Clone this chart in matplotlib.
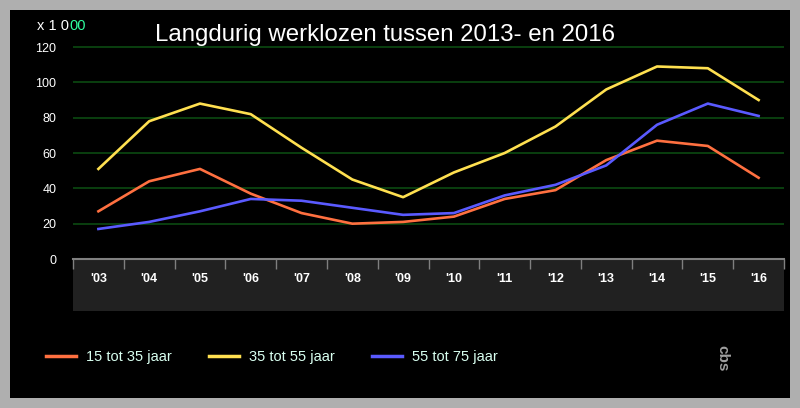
import matplotlib.pyplot as plt
from matplotlib.lines import Line2D
from matplotlib.patches import Rectangle

# data (x 1 000)
jaren = ["'03", "'04", "'05", "'06", "'07", "'08", "'09", "'10", "'11", "'12", "'13", "'14", "'15", "'16"]
jong = [27, 44, 51, 37, 26, 20, 21, 24, 34, 39, 56, 67, 64, 46]          # 15 tot 35 jaar
midden = [51, 78, 88, 82, 63, 45, 35, 49, 60, 75, 96, 109, 108, 90]     # 35 tot 55 jaar
oud = [17, 21, 27, 34, 33, 29, 25, 26, 36, 42, 53, 76, 88, 81]          # 55 tot 75 jaar
yticks = [0, 20, 40, 60, 80, 100, 120]

W, H = 800, 408
fig = plt.figure(figsize=(W / 100, H / 100), dpi=100, facecolor='#afafaf')
plt.rcParams['font.family'] = ['Liberation Sans', 'DejaVu Sans']

# black panel
fig.patches.append(Rectangle((10 / W, 10 / H), 780 / W, 388 / H, transform=fig.transFigure,
                             facecolor='black', edgecolor='none', zorder=-10))

def fx(px):
    return px / W

def fy(py):
    return 1 - py / H

# band under x-axis
band = fig.add_axes([fx(73), fy(311), fx(711), (311 - 259) / H])
band.set_facecolor('#212121')
band.set_xticks([])
band.set_yticks([])
for s in band.spines.values():
    s.set_visible(False)

ax = fig.add_axes([fx(73), fy(259), fx(711), (259 - 46) / H])
ax.set_facecolor('none')
x = list(range(len(jaren)))
ax.plot(x, jong, color='#ff7040', lw=1.9, label='15 tot 35 jaar')
ax.plot(x, midden, color='#ffe050', lw=1.9, label='35 tot 55 jaar')
ax.plot(x, oud, color='#5a5aff', lw=1.9, label='55 tot 75 jaar')

ax.set_xlim(-0.5, len(jaren) - 0.5)
ax.set_ylim(0, 120.6)
ax.set_yticks(yticks)
ax.yaxis.grid(True, color='#0b4a12', lw=1.2)
ax.set_axisbelow(True)
ax.tick_params(axis='y', length=0, pad=12, labelcolor='white', labelsize=9)

ax.set_xticks(x)
ax.set_xticklabels(jaren)
ax.set_xticks([i - 0.5 for i in range(len(jaren) + 1)], minor=True)
ax.tick_params(axis='x', which='major', length=0, pad=10, labelcolor='white', labelsize=9)
ax.tick_params(axis='x', which='minor', length=7, width=1.0, color='#808080', direction='out')
for lbl in ax.get_xticklabels():
    lbl.set_fontweight('bold')
for side in ['left', 'right', 'top']:
    ax.spines[side].set_visible(False)
ax.spines['bottom'].set_color('#808080')
ax.spines['bottom'].set_linewidth(1.5)

fig.text(fx(385), fy(35), 'Langdurig werklozen tussen 2013- en 2016', color='white',
         fontsize=17.3, ha='center', va='center')
fig.text(fx(69), fy(26), 'x 1 0', color='white', fontsize=10.5, ha='right', va='center')
fig.text(fx(69), fy(26), '00', color='#30ffa0', fontsize=10.5, ha='left', va='center')

handles = [Line2D([], [], color=c, lw=2.5) for c in ['#ff7040', '#ffe050', '#5a5aff']]
leg = fig.legend(handles, ['15 tot 35 jaar', '35 tot 55 jaar', '55 tot 75 jaar'],
                 loc='center left', bbox_to_anchor=(fx(33), fy(357)), ncol=3, frameon=False,
                 fontsize=10.5, handlelength=2.05, columnspacing=2.55, handletextpad=0.7)
for t in leg.get_texts():
    t.set_color('#d8fff0')

# cbs logo
fig.text(fx(722), fy(358), 'cbs', color='#a0a0a0', fontsize=11, fontweight='bold',
         rotation=-90, ha='center', va='center')

fig.savefig('out.png', dpi=100, facecolor=fig.get_facecolor())
